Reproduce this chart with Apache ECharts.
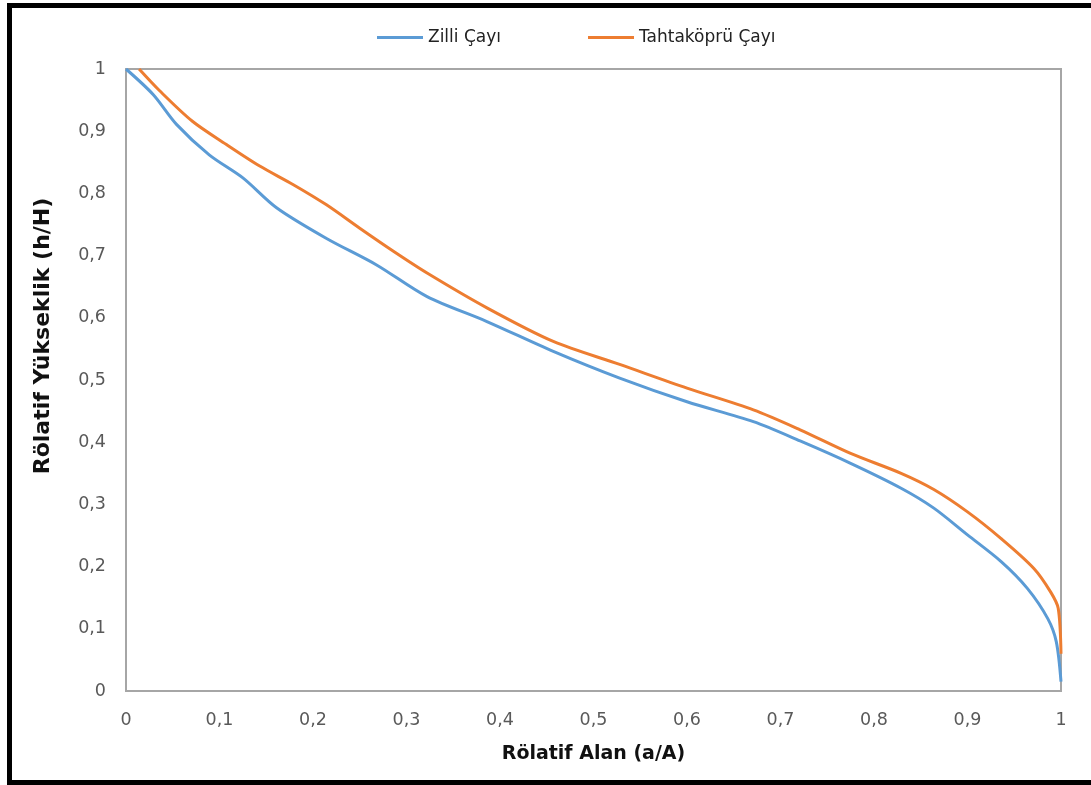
<!DOCTYPE html>
<html>
<head>
<meta charset="utf-8">
<script src="https://cdn.jsdelivr.net/npm/echarts@6/dist/echarts.min.js"></script>
<style>
html,body{margin:0;padding:0;background:#fff;overflow:hidden;}
#c{width:1091px;height:785px;}
</style>
</head>
<body>
<div id="c"></div>
<script>
const seriesNames = ['Zilli Çayı', 'Tahtaköprü Çayı'];
const zilli = [[0,1],[0.029,0.959],[0.054,0.911],[0.089,0.862],[0.125,0.825],[0.161,0.777],[0.214,0.728],[0.268,0.685],[0.322,0.634],[0.386,0.594],[0.457,0.546],[0.528,0.503],[0.600,0.465],[0.671,0.433],[0.721,0.402],[0.775,0.366],[0.829,0.326],[0.864,0.294],[0.900,0.251],[0.936,0.208],[0.964,0.165],[0.986,0.116],[0.995,0.079],[1.0,0.015]];
const tahtakopru = [[0.014,1],[0.036,0.965],[0.071,0.916],[0.107,0.879],[0.143,0.844],[0.179,0.814],[0.214,0.782],[0.250,0.744],[0.286,0.707],[0.322,0.672],[0.386,0.616],[0.457,0.562],[0.528,0.525],[0.600,0.487],[0.671,0.452],[0.721,0.420],[0.775,0.382],[0.829,0.350],[0.864,0.324],[0.900,0.288],[0.936,0.245],[0.971,0.197],[0.989,0.159],[0.997,0.133],[1.0,0.06]];
const xName = 'Rölatif Alan (a/A)';
const yName = 'Rölatif Yükseklik (h/H)';

const chart = echarts.init(document.getElementById('c'));
const fmt = v => (Math.round(v*10)/10).toString().replace('.', ',');
const font = 'DejaVu Sans';
const frame = {stroke: '#000', lineWidth: 5};
chart.setOption({
  animation: false,
  backgroundColor: '#fff',
  graphic: [
    {type: 'line', silent: true, shape: {x1: 9.5, y1: 3, x2: 9.5, y2: 785}, style: frame},
    {type: 'line', silent: true, shape: {x1: 7, y1: 5.5, x2: 1091, y2: 5.5}, style: frame},
    {type: 'line', silent: true, shape: {x1: 7, y1: 782.5, x2: 1091, y2: 782.5}, style: frame},
    {
      type: 'text', silent: true, x: 43, y: 336, rotation: Math.PI / 2,
      style: {text: yName, fontFamily: font, fontSize: 22, fontWeight: 'bold', fill: '#111',
              align: 'center', verticalAlign: 'middle'}
    }
  ],
  legend: {
    top: 24, left: 372, itemGap: 87, itemWidth: 46, itemHeight: 3,
    icon: 'rect',
    textStyle: {fontFamily: font, fontSize: 17, color: '#222'},
    data: seriesNames
  },
  grid: {left: 126, right: 30, top: 69, bottom: 94, show: true, borderColor: '#a6a6a6', borderWidth: 2},
  xAxis: {
    type: 'value', min: 0, max: 1, interval: 0.1,
    name: xName, nameLocation: 'middle', nameGap: 54,
    nameTextStyle: {fontFamily: font, fontSize: 19, fontWeight: 'bold', color: '#111'},
    axisLine: {show: true, lineStyle: {color: '#a6a6a6', width: 2}},
    axisTick: {show: false}, splitLine: {show: false},
    axisLabel: {formatter: fmt, margin: 20, fontFamily: font, fontSize: 17.5, color: '#595959'}
  },
  yAxis: {
    type: 'value', min: 0, max: 1, interval: 0.1,
    axisLine: {show: true, lineStyle: {color: '#a6a6a6', width: 2}},
    axisTick: {show: false}, splitLine: {show: false},
    axisLabel: {formatter: fmt, margin: 20, fontFamily: font, fontSize: 17.5, color: '#595959'}
  },
  series: [
    {name: seriesNames[0], type: 'line', data: zilli, smooth: 0.3, showSymbol: false,
     lineStyle: {color: '#5B9BD5', width: 3}, itemStyle: {color: '#5B9BD5'}},
    {name: seriesNames[1], type: 'line', data: tahtakopru, smooth: 0.3, showSymbol: false,
     lineStyle: {color: '#ED7D31', width: 3}, itemStyle: {color: '#ED7D31'}}
  ]
});
</script>
</body>
</html>
